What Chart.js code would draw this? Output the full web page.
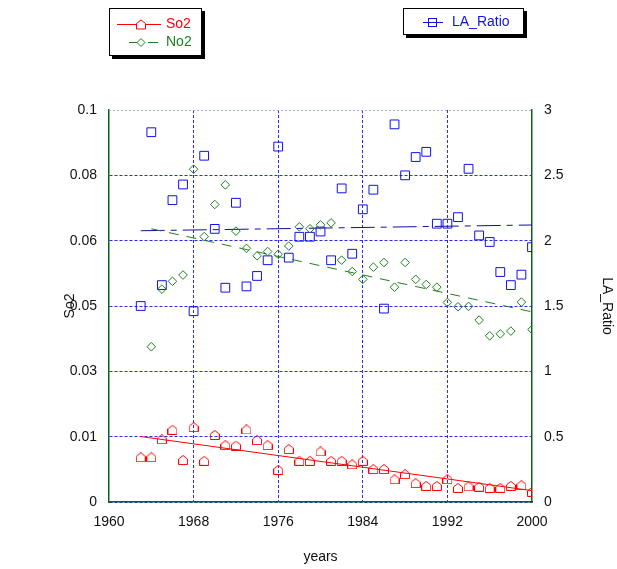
<!DOCTYPE html>
<html><head><meta charset="utf-8">
<script src="https://cdn.jsdelivr.net/npm/chart.js@4/dist/chart.umd.min.js"></script>
<style>html,body{margin:0;padding:0;background:#fff;}canvas{display:block}</style>
</head><body>
<canvas id="c" width="617" height="569"></canvas>
<script>
// ---- data ----
const years = [1963,1964,1965,1966,1967,1968,1969,1970,1971,1972,1973,1974,1975,1976,1977,1978,1979,1980,1981,1982,1983,1984,1985,1986,1987,1988,1989,1990,1991,1992,1993,1994,1995,1996,1997,1998,1999,2000];
const so2Values = [0.0114,0.0114,0.0160,0.0184,0.0107,0.0191,0.0105,0.0171,0.0145,0.0144,0.0185,0.0158,0.0145,0.0082,0.0135,0.0105,0.0105,0.0129,0.0105,0.0105,0.0096,0.0105,0.0084,0.0084,0.0058,0.0071,0.0048,0.0041,0.0041,0.0058,0.0036,0.0040,0.0039,0.0036,0.0036,0.0041,0.0043,0.0026];
const no2Years = [1964,1965,1966,1967,1968,1969,1970,1971,1972,1973,1974,1975,1976,1977,1978,1979,1980,1981,1982,1983,1984,1985,1986,1987,1988,1989,1990,1991,1992,1993,1994,1995,1996,1997,1998,1999,2000];
const no2Values = [0.0396,0.0543,0.0563,0.0579,0.0849,0.0677,0.0759,0.0809,0.0691,0.0647,0.0628,0.0639,0.0632,0.0653,0.0702,0.0697,0.0707,0.0712,0.0617,0.0588,0.0568,0.0599,0.0611,0.0548,0.0611,0.0568,0.0555,0.0548,0.0509,0.0498,0.0499,0.0464,0.0424,0.0429,0.0436,0.0510,0.0440];
const laValues = [1.50,2.83,1.66,2.31,2.43,1.46,2.65,2.09,1.64,2.29,1.65,1.73,1.85,2.72,1.87,2.03,2.03,2.07,1.85,2.40,1.90,2.24,2.39,1.48,2.89,2.50,2.64,2.68,2.13,2.13,2.18,2.55,2.04,1.99,1.76,1.66,1.74,1.95];
const so2TrendYears = [1963,2000];
const so2TrendValues = [0.0167,0.0029];
const no2TrendYears = [1964,2000];
const no2TrendValues = [0.0697,0.0485];
const laTrendYears = [1963,2000];
const laTrendValues = [2.076,2.12];
const xTickValues = [1960,1968,1976,1984,1992,2000];
const leftTickValues = [0,0.1/6,0.2/6,0.3/6,0.4/6,0.5/6,0.1];
const leftTickLabels = ['0','0.01','0.03','0.05','0.06','0.08','0.1'];
const rightTickValues = [0,0.5,1,1.5,2,2.5,3];
const rightTickLabels = ['0','0.5','1','1.5','2','2.5','3'];

// ---- styles ----
const RED = '#ff0000', GREEN = '#1f7f1f', BLUE = '#1010ee';
const FONT = {family:'"Liberation Sans", Arial, sans-serif', size:14};

function housePath(ctx, x, y){
  ctx.beginPath();
  ctx.moveTo(x, y-4.5);
  ctx.lineTo(x+4.5, y-1);
  ctx.lineTo(x+4.5, y+4.5);
  ctx.lineTo(x-4.5, y+4.5);
  ctx.lineTo(x-4.5, y-1);
  ctx.closePath();
}
const houseImg = document.createElement('canvas');
houseImg.width = 10; houseImg.height = 10;
(function(){ const g = houseImg.getContext('2d'); g.strokeStyle = RED; g.lineWidth = 1; housePath(g, 5, 5); g.stroke(); })();

const pts = (xs, ys) => xs.map((x,i)=>({x:x, y:ys[i]}));

const legendPlugin = {
  id:'customLegend',
  afterDraw(chart){
    const ctx = chart.ctx;
    ctx.save();
    // box 1
    ctx.fillStyle = '#000'; ctx.fillRect(112, 11, 93, 48);
    ctx.fillStyle = '#fff'; ctx.fillRect(109, 8, 93, 48);
    ctx.strokeStyle = '#000'; ctx.lineWidth = 1; ctx.strokeRect(109.5, 8.5, 92, 47);
    // So2 row
    ctx.strokeStyle = RED; ctx.beginPath(); ctx.moveTo(117, 24.5); ctx.lineTo(161, 24.5); ctx.stroke();
    ctx.fillStyle = '#fff'; housePath(ctx, 141, 24.5); ctx.fill(); ctx.stroke();
    ctx.font = '14px "Liberation Sans", Arial, sans-serif'; ctx.textBaseline = 'middle'; ctx.textAlign = 'left';
    ctx.fillStyle = RED; ctx.fillText('So2', 166, 24.5);
    // No2 row
    ctx.strokeStyle = GREEN; ctx.beginPath();
    ctx.moveTo(129, 42.5); ctx.lineTo(137, 42.5); ctx.moveTo(148, 42.5); ctx.lineTo(158, 42.5); ctx.stroke();
    ctx.beginPath(); ctx.moveTo(141, 38.5); ctx.lineTo(145, 42.5); ctx.lineTo(141, 46.5); ctx.lineTo(137, 42.5); ctx.closePath(); ctx.stroke();
    ctx.fillStyle = GREEN; ctx.fillText('No2', 166, 42.5);
    // box 2
    ctx.fillStyle = '#000'; ctx.fillRect(406, 11, 121, 27);
    ctx.fillStyle = '#fff'; ctx.fillRect(403, 8, 121, 27);
    ctx.strokeStyle = '#000'; ctx.strokeRect(403.5, 8.5, 120, 26);
    ctx.strokeStyle = BLUE; ctx.beginPath(); ctx.moveTo(423, 22.5); ctx.lineTo(443, 22.5); ctx.stroke();
    ctx.strokeRect(428.5, 18.5, 8, 8);
    ctx.fillStyle = BLUE; ctx.fillText('LA_Ratio', 452, 22.5);
    // top frame line (dotted, light)
    const a = chart.chartArea;
    ctx.strokeStyle = '#9fb0c8'; ctx.setLineDash([2,2]);
    ctx.beginPath(); ctx.moveTo(a.left, a.top + 0.5); ctx.lineTo(a.right, a.top + 0.5); ctx.stroke();
    ctx.restore();
  }
};

new Chart(document.getElementById('c'), {
  type:'scatter',
  data:{ datasets:[
    {label:'So2', data:pts(years, so2Values), yAxisID:'y', pointStyle:houseImg, pointRadius:5, borderColor:RED, backgroundColor:'rgba(0,0,0,0)', showLine:false},
    {label:'So2 trend', data:pts(so2TrendYears, so2TrendValues), yAxisID:'y', showLine:true, pointRadius:0, borderColor:RED, borderWidth:1},
    {label:'No2', data:pts(no2Years, no2Values), yAxisID:'y', pointStyle:'rectRot', pointRadius:4.3, pointBorderWidth:1, borderColor:GREEN, pointBackgroundColor:'rgba(0,0,0,0)', backgroundColor:'rgba(0,0,0,0)', showLine:false},
    {label:'No2 trend', data:pts(no2TrendYears, no2TrendValues), yAxisID:'y', showLine:true, pointRadius:0, borderColor:GREEN, borderWidth:1, borderDash:[10,8]},
    {label:'LA_Ratio', data:pts(years, laValues), yAxisID:'yR', pointStyle:'rect', pointRadius:6.2, pointBorderWidth:1, borderColor:BLUE, pointBackgroundColor:'rgba(0,0,0,0)', backgroundColor:'rgba(0,0,0,0)', showLine:false},
    {label:'LA trend', data:pts(laTrendYears, laTrendValues), yAxisID:'yR', showLine:true, pointRadius:0, borderColor:'#10109a', borderWidth:1, borderDash:[24,6,6,6]}
  ]},
  options:{
    responsive:false, animation:false, devicePixelRatio:1,
    layout:{padding:{top:110, left:0, right:0, bottom:0}},
    plugins:{legend:{display:false}, tooltip:{enabled:false}},
    scales:{
      x:{type:'linear', position:'bottom', min:1960, max:2000,
        afterBuildTicks:s=>{ s.ticks = xTickValues.map(v=>({value:v})); },
        afterFit:s=>{ s.height = 67; },
        ticks:{callback:v=>String(v), font:FONT, color:'#111', padding:12, maxRotation:0, autoSkip:false},
        grid:{drawTicks:false, lineWidth:1, color:c=>(c.tick && (c.tick.value===1960 || c.tick.value===2000)) ? 'rgba(0,0,0,0)' : '#2a2af0'},
        border:{display:true, color:'#0f5f1f', width:1.5, dash:[3,2]},
        title:{display:true, text:'years', font:FONT, color:'#111', padding:{top:0, bottom:3.6}}
      },
      y:{type:'linear', position:'left', min:0, max:0.1,
        afterBuildTicks:s=>{ s.ticks = leftTickValues.map(v=>({value:v})); },
        afterFit:s=>{ s.width = 109; },
        ticks:{callback:(v,i)=>leftTickLabels[i], font:FONT, color:'#111', padding:12},
        grid:{drawTicks:false, lineWidth:1, color:c=>(c.index===6) ? 'rgba(0,0,0,0)' : '#2a2af0'},
        border:{display:true, color:'#0f5f1f', width:1.5, dash:[3,2]},
        title:{display:true, text:'So2', font:FONT, color:'#111', padding:{top:61.6, bottom:0}}
      },
      yR:{type:'linear', position:'right', min:0, max:3,
        afterBuildTicks:s=>{ s.ticks = rightTickValues.map(v=>({value:v})); },
        afterFit:s=>{ s.width = 85; },
        ticks:{callback:(v,i)=>rightTickLabels[i], font:FONT, color:'#111', padding:12},
        grid:{drawOnChartArea:false, drawTicks:false},
        border:{display:true, color:'#0f5f1f', width:1.5},
        title:{display:true, text:'LA_Ratio', font:FONT, color:'#111', padding:{top:1.6, bottom:0}}
      }
    }
  },
  plugins:[legendPlugin]
});
</script>
</body></html>
